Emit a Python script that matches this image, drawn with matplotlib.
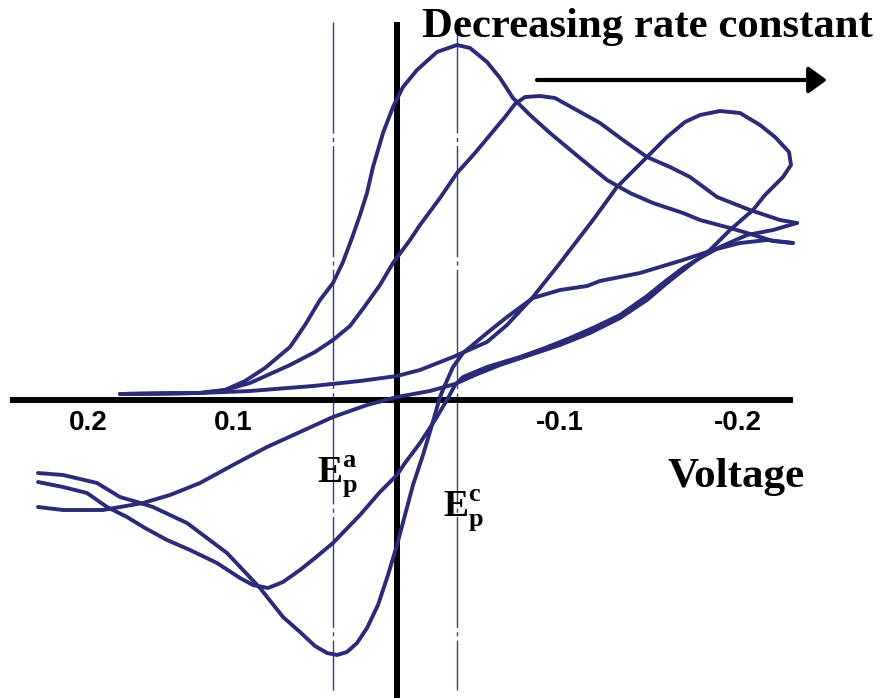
import matplotlib
matplotlib.use('Agg')
import matplotlib.pyplot as plt

plt.rcParams['mathtext.fontset'] = 'custom'
plt.rcParams['mathtext.rm'] = 'Liberation Serif'
plt.rcParams['mathtext.bf'] = 'Liberation Serif:bold'

# potential in mV (axis runs from positive on the left to negative on the right), current in arbitrary units
# loop 1: fastest electron transfer
e1_fwd = [166.2, 118.2, 103.2, 91.2, 79.2, 64.2, 55.2, 46.2, 38.4, 32.4, 27.0, 22.2, 18.0, 14.4, 8.4, 2.4,
          -3.6, -12.0, -24.0, -36.0, -43.8, -54.0, -61.8, -69.6, -79.8, -91.8, -109.8, -126.0, -139.8,
          -153.6, -171.6, -181.8, -199.8, -210.0, -225.6, -237.6]
i1_fwd = [0.6, 0.7, 1.0, 1.9, 3.2, 5.3, 7.5, 10.0, 11.7, 13.8, 16.2, 18.5, 20.7, 23.3, 26.7, 29.3,
          31.3, 33.0, 34.8, 35.5, 35.2, 33.8, 32.2, 30.2, 28.5, 26.7, 24.2, 22.0, 20.7,
          19.7, 18.7, 18.0, 17.2, 16.7, 15.9, 15.7]
e1_rev = [-237.6, -222.0, -205.8, -189.6, -171.6, -145.8, -121.8, -114.0, -97.8, -81.6, -66.0, -54.0, -39.6,
          -33.6, -28.8, -25.8, -21.0, -15.6, -9.6, -4.8, 0.0, 5.4, 11.4, 18.0, 24.0, 30.0, 36.0, 42.0, 49.2,
          58.2, 68.4, 82.2, 102.0, 126.0, 146.4, 156.0, 166.2, 180.0, 200.4, 215.4]
i1_rev = [15.7, 16.0, 15.7, 15.0, 14.0, 12.7, 11.9, 11.4, 11.0, 10.2, 8.3, 6.7, 4.7,
          3.3, 1.5, 0.3, -2.5, -5.5, -8.5, -11.5, -14.5, -17.5, -20.5, -22.8, -24.3, -25.2, -25.5, -25.3, -24.6,
          -23.2, -21.7, -18.8, -15.3, -12.3, -10.7, -10.2, -9.7, -8.3, -7.5, -7.3]

# loop 2: intermediate rate constant
e2_fwd = [166.2, 118.2, 103.2, 88.2, 64.2, 49.2, 38.4, 28.2, 19.2, 10.2, 2.4, -7.8, -13.8, -25.8, -36.0,
          -46.8, -55.8, -64.8, -70.8, -76.8, -85.8, -94.8, -105.6, -121.8, -135.6, -150.0, -163.8, -175.8,
          -192.0, -211.8, -229.8, -240.0]
i2_fwd = [0.6, 0.7, 1.0, 1.7, 3.5, 4.8, 6.0, 7.4, 9.4, 11.5, 13.7, 16.0, 17.5, 20.2, 22.7,
          24.7, 26.5, 28.3, 29.6, 30.3, 30.4, 30.2, 29.2, 27.7, 26.0, 24.3, 23.3, 22.3,
          20.3, 19.0, 18.0, 17.7]
e2_rev = [-240.0, -225.6, -210.0, -193.8, -181.8, -171.6, -162.0, -150.0, -133.8, -118.8, -103.8, -88.8,
          -73.8, -54.0, -39.6, -34.8, -30.0, -22.8, -13.8, -4.8, 0.0, 10.2, 22.2, 38.4, 49.2, 58.2, 68.4,
          77.4, 86.4, 94.2, 108.0, 124.2, 138.0, 151.2, 162.0, 174.0, 186.0, 200.4, 215.4]
i2_rev = [17.7, 17.0, 16.5, 15.3, 14.2, 13.2, 12.0, 10.4, 8.5, 7.3, 6.2, 5.2,
          4.3, 3.3, 2.3, 1.5, 0.0, -2.0, -4.3, -6.3, -7.5, -9.2, -11.5, -14.3, -15.8, -17.0, -18.2,
          -18.8, -18.5, -17.8, -16.3, -15.0, -14.0, -12.8, -11.7, -10.7, -9.3, -8.7, -8.2]

# loop 3: slowest rate constant
e3 = [166.2, 118.2, 88.2, 50.4, 22.2, 0.0, -13.8, -33.6, -54.0, -66.0, -81.6, -97.8, -117.6, -132.0,
      -150.0, -162.0, -172.8, -181.8, -193.8, -205.8, -217.8, -226.8, -235.2, -236.4,
      -231.6, -220.8, -213.6, -199.8, -187.8, -175.8, -162.0, -150.0, -133.8, -115.8, -97.8, -79.8,
      -61.8, -46.8, -34.8, -19.8, 0.0, 18.0, 38.4, 58.2, 78.0, 98.4, 118.2, 136.2, 152.4, 166.2,
      176.4, 200.4, 215.4]
i3 = [0.6, 0.7, 0.9, 1.4, 1.9, 2.4, 3.0, 4.3, 5.8, 7.5, 10.3, 13.7, 18.0, 21.3,
      24.3, 26.3, 27.8, 28.5, 28.9, 28.7, 27.5, 26.3, 24.8, 23.5,
      22.3, 20.5, 19.0, 17.0, 15.0, 13.5, 11.7, 10.0, 8.2, 6.7, 5.5, 4.5,
      3.5, 2.5, 1.6, 0.9, 0.3, -0.5, -1.7, -3.2, -4.7, -6.5, -8.3, -9.5, -10.3, -10.7,
      -11.0, -11.0, -10.7]

peak_a = 38.4    # E_p^a
peak_c = -36.0   # E_p^c

tick_labels = ['0.2', '0.1', '-0.1', '-0.2']
tick_pos = [185.4, 98.4, -97.8, -204.6]

navy = '#2b2b78'

fig = plt.figure(figsize=(8.81, 6.98), dpi=100)
ax = fig.add_axes([0, 0, 1, 1])
ax.set_xlim(238.2, -290.4)
ax.set_ylim(-29.8, 40)
ax.axis('off')

# axes drawn as plain thick lines
ax.plot([232.2, -237.6], [0, 0], color='black', lw=4.3, solid_capstyle='butt', zorder=2)
ax.plot([0, 0], [37.8, -29.8], color='black', lw=4.3, solid_capstyle='butt', zorder=2)

# peak potential markers
for e in [peak_a, peak_c]:
    ax.plot([e, e], [37.8, -29.0], color='#3a3a90', lw=1.0, dashes=(80, 3, 3, 3), zorder=1)

for e, i in [(e1_fwd, i1_fwd), (e1_rev, i1_rev), (e2_fwd, i2_fwd), (e2_rev, i2_rev), (e3, i3)]:
    ax.plot(e, i, color=navy, lw=2.8, solid_joinstyle='round', solid_capstyle='round', zorder=3)

for lab, p in zip(tick_labels, tick_pos):
    ax.text(p, -2.3, lab, ha='center', va='center', fontsize=20, fontweight='bold',
            family='Liberation Sans')

ax.text(-15, 36.3, 'Decreasing rate constant', ha='left', va='baseline', fontsize=30.8,
        fontweight='bold', family='Liberation Serif')
ax.annotate('', xy=(-258, 32), xytext=(-84, 32),
            arrowprops=dict(arrowstyle='-|>,head_length=0.55,head_width=0.4', lw=3,
                            color='black', mutation_scale=20, shrinkA=0, shrinkB=0))
ax.text(-162.6, -8.7, 'Voltage', ha='left', va='baseline', fontsize=31,
        fontweight='bold', family='Liberation Serif')

ax.text(48.0, -8.2, r'$\mathbf{E}_{\mathbf{p}}^{\mathbf{a}}$', ha='left', va='baseline', fontsize=27)
ax.text(-27.6, -11.7, r'$\mathbf{E}_{\mathbf{p}}^{\mathbf{c}}$', ha='left', va='baseline', fontsize=27)

fig.savefig('out.png', dpi=100)
